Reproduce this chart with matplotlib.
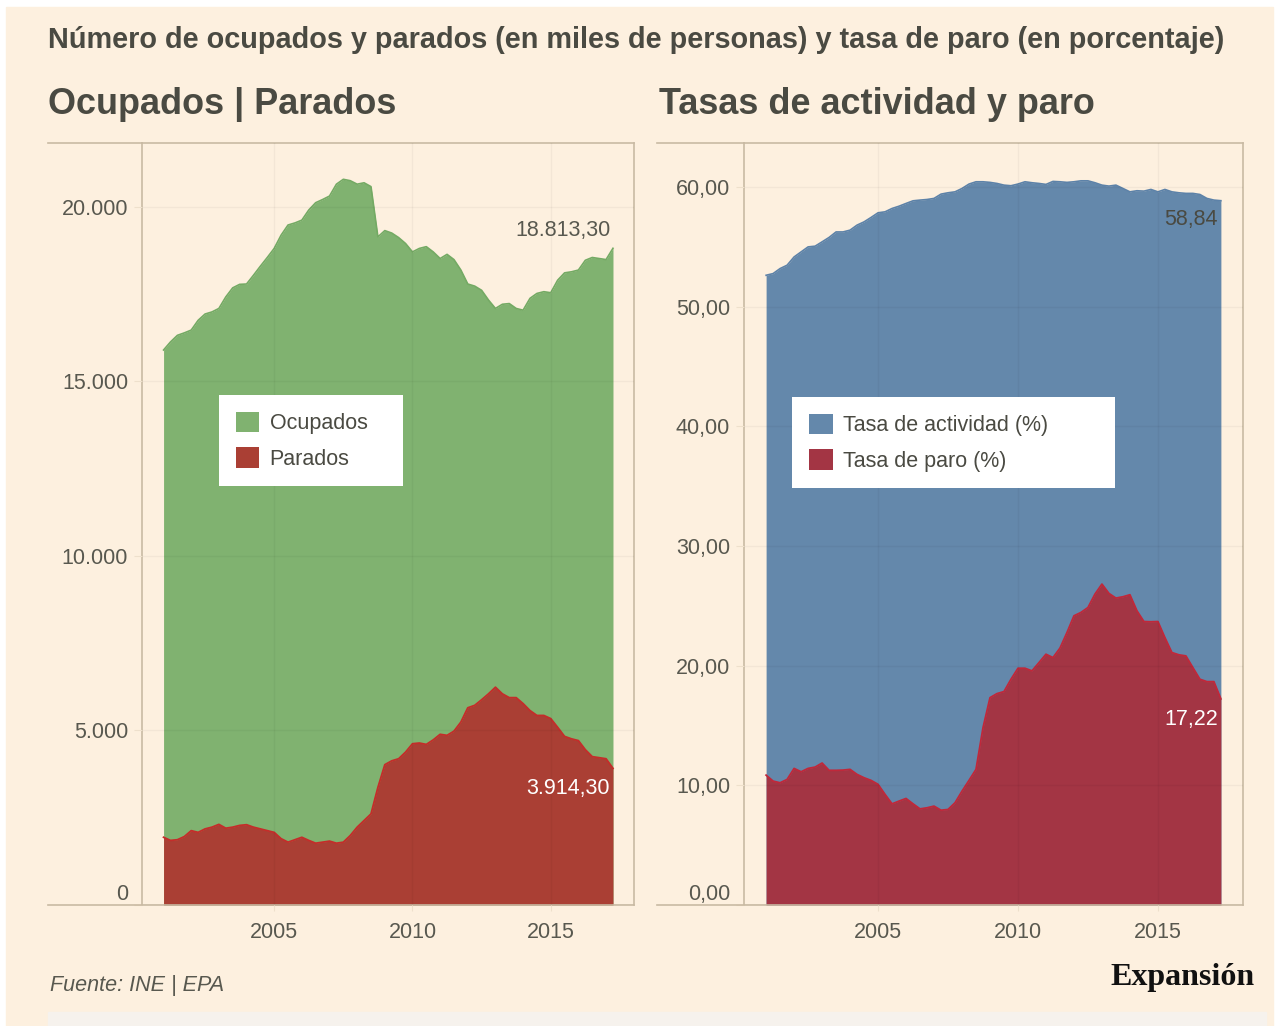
import numpy as np
import pandas as pd
import matplotlib
matplotlib.use('Agg')
import matplotlib.pyplot as plt
from matplotlib.lines import Line2D
from matplotlib.patches import Patch, Rectangle

plt.rcParams['font.family'] = ['Liberation Sans', 'DejaVu Sans']

# trimestres EPA 2001T1 - 2017T2
trimestres = pd.period_range('2001Q1', '2017Q2', freq='Q')
x = np.asarray(trimestres.year + (trimestres.quarter - 1) / 4, dtype=float)

# miles de personas
ocupados = [15900, 16130, 16320, 16390, 16470, 16750, 16930, 16990,
            17090, 17420, 17680, 17780, 17790, 18040, 18300, 18550,
            18810, 19190, 19480, 19540, 19620, 19910, 20120, 20210,
            20310, 20650, 20790, 20750, 20650, 20690, 20580, 19140,
            19320, 19250, 19120, 18950, 18710, 18810, 18860, 18710,
            18520, 18640, 18490, 18190, 17790, 17730, 17610, 17330,
            17090, 17210, 17230, 17090, 17040, 17380, 17520, 17570,
            17540, 17900, 18110, 18140, 18190, 18470, 18550, 18520,
            18490, 18813.3]
parados = [1940, 1850, 1870, 1960, 2130, 2080, 2180, 2230,
           2310, 2200, 2230, 2280, 2300, 2230, 2180, 2130,
           2080, 1900, 1800, 1870, 1940, 1850, 1770, 1800,
           1830, 1770, 1800, 1990, 2230, 2420, 2610, 3370,
           4020, 4130, 4190, 4380, 4620, 4640, 4600, 4730,
           4890, 4860, 4980, 5240, 5650, 5720, 5880, 6050,
           6240, 6050, 5940, 5940, 5770, 5570, 5430, 5430,
           5340, 5090, 4830, 4760, 4710, 4450, 4250, 4220,
           4190, 3914.3]

# porcentaje
tasa_actividad = [52.61, 52.75, 53.17, 53.45, 54.14, 54.56, 54.98, 55.04,
                  55.40, 55.77, 56.23, 56.23, 56.38, 56.80, 57.07, 57.44,
                  57.83, 57.91, 58.19, 58.38, 58.61, 58.83, 58.89, 58.94,
                  59.03, 59.39, 59.50, 59.58, 59.86, 60.23, 60.42, 60.42,
                  60.37, 60.28, 60.14, 60.09, 60.23, 60.42, 60.34, 60.28,
                  60.20, 60.45, 60.42, 60.37, 60.42, 60.50, 60.50, 60.34,
                  60.14, 60.06, 60.14, 59.86, 59.58, 59.67, 59.64, 59.78,
                  59.58, 59.78, 59.58, 59.50, 59.45, 59.45, 59.36, 59.03,
                  58.89, 58.84]
tasa_paro = [10.85, 10.35, 10.21, 10.49, 11.41, 11.13, 11.41, 11.52,
             11.86, 11.25, 11.25, 11.27, 11.33, 10.91, 10.63, 10.41,
             10.08, 9.24, 8.45, 8.68, 8.90, 8.45, 8.03, 8.12,
             8.26, 7.92, 7.98, 8.54, 9.51, 10.41, 11.33, 14.81,
             17.32, 17.66, 17.83, 18.86, 19.78, 19.78, 19.56, 20.25,
             20.95, 20.67, 21.46, 22.76, 24.16, 24.44, 24.85, 25.97,
             26.81, 26.03, 25.64, 25.75, 25.92, 24.58, 23.68, 23.66,
             23.68, 22.34, 21.09, 20.90, 20.81, 19.83, 18.86, 18.66,
             18.66, 17.22]

ticks_miles = [0, 5000, 10000, 15000, 20000]
ticks_pct = [0, 10, 20, 30, 40, 50, 60]
ticks_anios = [2005, 2010, 2015]

# colores
beige = '#fdf0df'
texto = '#4a4a42'
gris = '#58584f'
linea = '#c9baa3'
verde, verde_borde = '#80b270', '#74aa64'
rojo1, rojo1_borde = '#aa3f34', '#c42d2a'
azul, azul_borde = '#6488ab', '#5d82a8'
rojo2, rojo2_borde = '#a33544', '#c0283a'

W, H = 1279, 1026
fx = lambda p: p / W
fy = lambda p: 1 - p / H


def num_es(v, dec=2):
    s = f'{v:,.{dec}f}'
    return s.replace(',', 'X').replace('.', ',').replace('X', '.')


fig = plt.figure(figsize=(W / 100, H / 100), dpi=100)
fig.patch.set_facecolor('white')
fig.add_artist(Rectangle((fx(6), 0), fx(1273) - fx(6), fy(7), transform=fig.transFigure,
                         color=beige, zorder=0))
fig.add_artist(Rectangle((fx(48), 0), fx(1266) - fx(48), fy(1012), transform=fig.transFigure,
                         color='#f6f2ed', zorder=0))

ax1 = fig.add_axes([fx(142), fy(905), fx(634) - fx(142), fy(143) - fy(905)])
ax2 = fig.add_axes([fx(744), fy(905), fx(1243) - fx(744), fy(143) - fy(905)])


def estilo(ax, x_ini, yticks, ylabels):
    ax.set_facecolor(beige)
    for s in ax.spines.values():
        s.set_color(linea)
        s.set_linewidth(1.2)
    ax.grid(True, color='black', alpha=0.04, lw=1)
    ax.set_axisbelow(False)
    ax.set_xticks(ticks_anios)
    ax.set_yticks(yticks)
    ax.set_yticklabels(ylabels)
    ax.tick_params(axis='y', length=6, color='#eee0cc', labelsize=15.5, labelcolor=gris, pad=4)
    ax.tick_params(axis='x', length=4, color='#eee0cc', labelsize=15.5, labelcolor=gris, pad=8)
    ax.get_yticklabels()[0].set_verticalalignment('bottom')
    # el marco superior e inferior se alarga hasta el borde del panel
    x0 = ax.get_position().x0
    for yy in (fy(143), fy(905)):
        fig.add_artist(Line2D([fx(x_ini), x0], [yy, yy], transform=fig.transFigure,
                              color=linea, lw=1.2))


def leyenda(ax, handles, bbox):
    leg = ax.legend(handles=handles, loc='upper left', bbox_to_anchor=bbox,
                    mode='expand', borderaxespad=0, fancybox=False, facecolor='white',
                    edgecolor='none', framealpha=1, fontsize=15.5, handlelength=1.1,
                    handleheight=1.1, handletextpad=0.47, labelspacing=0.58, borderpad=0.78)
    for t in leg.get_texts():
        t.set_color(texto)
    return leg


# panel izquierdo: ocupados | parados
ax1.fill_between(x, 0, ocupados, color=verde, lw=0)
ax1.plot(x, ocupados, color=verde_borde, lw=1.2)
ax1.fill_between(x, 0, parados, color=rojo1, lw=0)
ax1.plot(x, parados, color=rojo1_borde, lw=1.3)
ax1.set_xlim(2000.22, 2018.01)
ax1.set_ylim(0, 21830)
estilo(ax1, 48, ticks_miles, [num_es(v, 0) for v in ticks_miles])

ax1.annotate(num_es(ocupados[-1]), xy=(x[-1], ocupados[-1]), xytext=(-2, 13),
             textcoords='offset points', ha='right', va='center', fontsize=15.5, color=gris)
ax1.annotate(num_es(parados[-1]), xy=(x[-1], parados[-1]), xytext=(-2, -14.5),
             textcoords='offset points', ha='right', va='center', fontsize=15.5, color='white')

leyenda(ax1, [Patch(facecolor=verde, edgecolor='none', label='Ocupados'),
              Patch(facecolor=rojo1, edgecolor='none', label='Parados')],
        (0.1565, 0.45, 0.374, 0.2193))

# panel derecho: tasas
ax2.fill_between(x, 0, tasa_actividad, color=azul, lw=0)
ax2.plot(x, tasa_actividad, color=azul_borde, lw=1.2)
ax2.fill_between(x, 0, tasa_paro, color=rojo2, lw=0)
ax2.plot(x, tasa_paro, color=rojo2_borde, lw=1.3)
ax2.set_xlim(2000.21, 2018.04)
ax2.set_ylim(0, 63.66)
estilo(ax2, 657, ticks_pct, [num_es(v) for v in ticks_pct])

ax2.annotate(num_es(tasa_actividad[-1]), xy=(x[-1], tasa_actividad[-1]), xytext=(-2, -13.5),
             textcoords='offset points', ha='right', va='center', fontsize=15.5, color=texto)
ax2.annotate(num_es(tasa_paro[-1]), xy=(x[-1], tasa_paro[-1]), xytext=(-2, -15),
             textcoords='offset points', ha='right', va='center', fontsize=15.5, color='white')

leyenda(ax2, [Patch(facecolor=azul, edgecolor='none', label='Tasa de actividad (%)'),
              Patch(facecolor=rojo2, edgecolor='none', label='Tasa de paro (%)')],
        (0.0967, 0.45, 0.647, 0.2167))

# textos
fig.text(fx(48), fy(40), 'Número de ocupados y parados (en miles de personas) y tasa de paro (en porcentaje)',
         fontsize=20.8, fontweight='bold', color=texto, va='center')
fig.text(fx(48), fy(105), 'Ocupados | Parados', fontsize=25.9, fontweight='bold', color=texto, va='center')
fig.text(fx(659), fy(105), 'Tasas de actividad y paro', fontsize=25.9, fontweight='bold',
         color=texto, va='center')
fig.text(fx(50), fy(985), 'Fuente: INE | EPA', fontsize=15.5, style='italic', color=gris, va='center')
fig.text(fx(1255), fy(977), 'Expansión', family=['Liberation Serif', 'DejaVu Serif'],
         fontweight='bold', fontsize=23, color='#111111', ha='right', va='center')

fig.savefig('out.png', dpi=100, facecolor=fig.get_facecolor())
